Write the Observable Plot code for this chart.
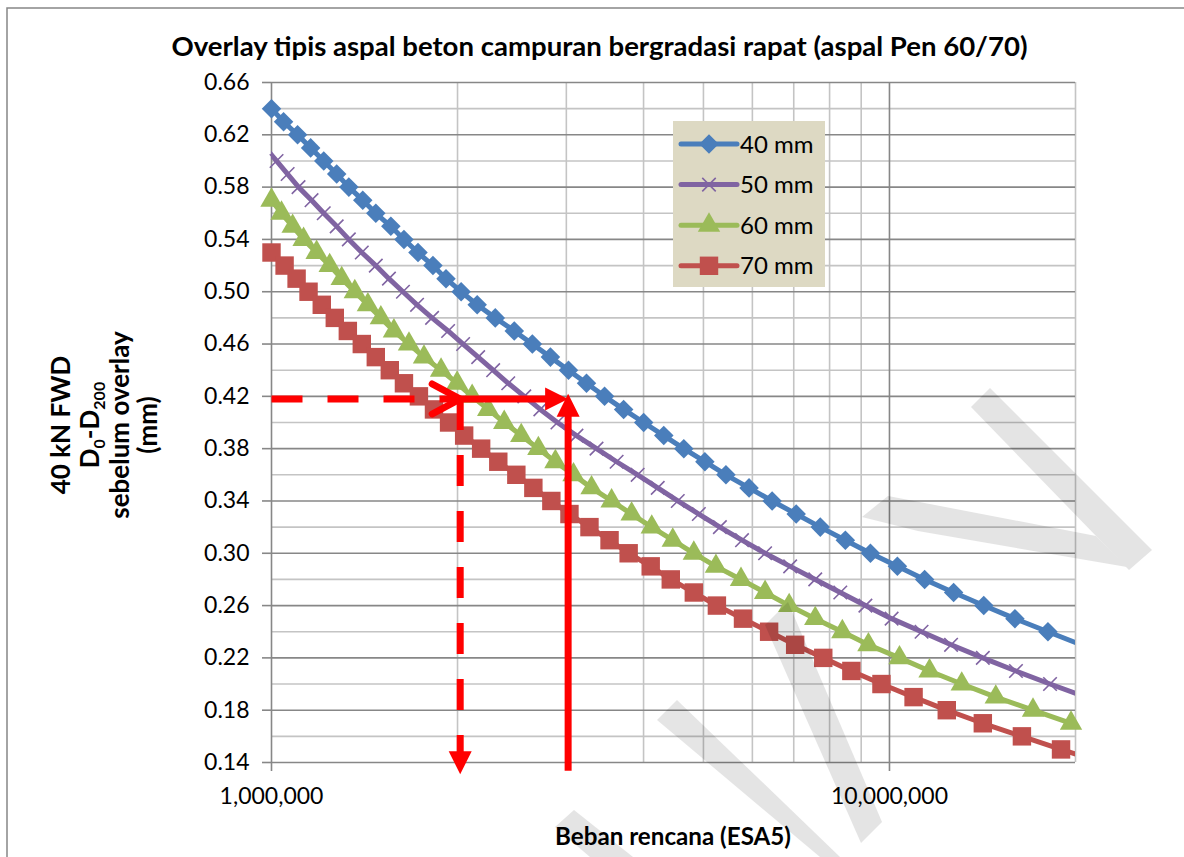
<!DOCTYPE html>
<html><head><meta charset="utf-8">
<script src="https://cdn.jsdelivr.net/npm/d3@7"></script>
<script src="https://cdn.jsdelivr.net/npm/@observablehq/plot@0.6"></script>
<style>
body{margin:0;background:#fff;}
#wrap{position:relative;width:1184px;height:857px;overflow:hidden;font-family:Lato,sans-serif;background:#fff;}
#wrap svg{position:absolute;left:0;top:0;}
</style></head><body><div id="wrap"></div>
<script>
// ---- data (ESA in millions, deflection in mm) ----
const esa40 = [1.000,1.046,1.102,1.157,1.215,1.275,1.334,1.405,1.475,1.560,1.638,1.726,1.825,1.916,2.027,2.152,2.302,2.471,2.643,2.827,3.024,3.234,3.459,3.714,4.002,4.313,4.647,5.027,5.437,5.926,6.458,7.064,7.727,8.484,9.315,10.30,11.40,12.70,14.21,15.96,18.05,20.42];
const d40 = [0.64,0.63,0.62,0.61,0.60,0.59,0.58,0.57,0.56,0.55,0.54,0.53,0.52,0.51,0.50,0.49,0.48,0.47,0.46,0.45,0.44,0.43,0.42,0.41,0.40,0.39,0.38,0.37,0.36,0.35,0.34,0.33,0.32,0.31,0.30,0.29,0.28,0.27,0.26,0.25,0.24,0.23];
const esa50 = [0.978,1.019,1.062,1.106,1.161,1.215,1.275,1.334,1.400,1.475,1.549,1.632,1.720,1.819,1.931,2.042,2.160,2.284,2.416,2.565,2.723,2.902,3.115,3.357,3.618,3.913,4.217,4.544,4.915,5.316,5.773,6.291,6.907,7.584,8.326,9.142,10.08,11.27,12.58,14.16,16.02,18.19,20.81];
const d50 = [0.61,0.60,0.59,0.58,0.57,0.56,0.55,0.54,0.53,0.52,0.51,0.50,0.49,0.48,0.47,0.46,0.45,0.44,0.43,0.42,0.41,0.40,0.39,0.38,0.37,0.36,0.35,0.34,0.33,0.32,0.31,0.30,0.29,0.28,0.27,0.26,0.25,0.24,0.23,0.22,0.21,0.20,0.19];
const esa60 = [1.000,1.038,1.082,1.127,1.183,1.242,1.299,1.364,1.432,1.503,1.578,1.669,1.765,1.881,1.997,2.112,2.242,2.380,2.536,2.703,2.880,3.081,3.295,3.551,3.826,4.124,4.460,4.824,5.238,5.751,6.291,6.881,7.584,8.389,9.245,10.38,11.61,13.09,14.86,17.07,19.67,22.85];
const d60 = [0.57,0.56,0.55,0.54,0.53,0.52,0.51,0.50,0.49,0.48,0.47,0.46,0.45,0.44,0.43,0.42,0.41,0.40,0.39,0.38,0.37,0.36,0.35,0.34,0.33,0.32,0.31,0.30,0.29,0.28,0.27,0.26,0.25,0.24,0.23,0.22,0.21,0.20,0.19,0.18,0.17,0.16];
const esa70 = [1.000,1.050,1.098,1.148,1.206,1.266,1.329,1.400,1.475,1.554,1.638,1.732,1.832,1.938,2.050,2.184,2.328,2.490,2.653,2.837,3.035,3.270,3.524,3.784,4.108,4.427,4.824,5.257,5.794,6.386,7.037,7.814,8.676,9.706,10.94,12.38,14.16,16.38,18.95,22.17];
const d70 = [0.53,0.52,0.51,0.50,0.49,0.48,0.47,0.46,0.45,0.44,0.43,0.42,0.41,0.40,0.39,0.38,0.37,0.36,0.35,0.34,0.33,0.32,0.31,0.30,0.29,0.28,0.27,0.26,0.25,0.24,0.23,0.22,0.21,0.20,0.19,0.18,0.17,0.16,0.15,0.14];

const seriesNames = ["40 mm","50 mm","60 mm","70 mm"];
const seriesColors = ["#4A7EBB","#8064A2","#9BBB59","#C0504D"];

// axis ticks / grid values
const yTicks = [0.14,0.18,0.22,0.26,0.30,0.34,0.38,0.42,0.46,0.50,0.54,0.58,0.62,0.66];
const yMinor = [0.16,0.20,0.24,0.28,0.32,0.36,0.40,0.44,0.48,0.52,0.56,0.60,0.64];
const xMajor = [1e6,1e7];
const xMinor = [2e6,3e6,4e6,5e6,6e6,7e6,8e6,9e6,2e7];

// reading guide (annotation) values
const guideD = 0.418, guideTipD = 0.422, guideLowD = 0.131, guideLowSolidD = 0.1336;
const guideStartESA = 1e6, readESA1 = 2.02e6, readESA2 = 3.02e6;

const toPts = (esa, d) => esa.map((e,i)=>({x:e*1e6, y:d[i]}));
const all = [toPts(esa40,d40), toPts(esa50,d50), toPts(esa60,d60), toPts(esa70,d70)];
const inDom = p => p.x >= 0.999e6 && p.x <= 2e7;

const symSpec = [
  {symbol:"diamond2", r:8.8, fill:seriesColors[0], stroke:"none"},
  {symbol:"times", r:6.2, fill:"none", stroke:seriesColors[1], strokeWidth:1.6},
  {symbol:"triangle", r:8.3, fill:seriesColors[2], stroke:"none"},
  {symbol:"square", r:10.4, fill:seriesColors[3], stroke:"none"}
];

const tipTri = {draw(ctx){ ctx.moveTo(0,0); ctx.lineTo(-23,-11.5); ctx.lineTo(-23,11.5); ctx.closePath(); }};
const chevron = {draw(ctx){ ctx.moveTo(-28,-15); ctx.lineTo(0,0); ctx.lineTo(-28,15); }};

const seriesMarks = [];
all.forEach((pts,i)=>{
  seriesMarks.push(Plot.line(pts,{x:"x",y:"y",stroke:seriesColors[i],strokeWidth:5,clip:true}));
  seriesMarks.push(Plot.dot(pts.filter(inDom),{x:"x",y:"y",...symSpec[i]}));
});

const RED = "#FF0000";
const annot = [
  Plot.line([{x:guideStartESA,y:guideD},{x:readESA1,y:guideD}],{x:"x",y:"y",stroke:RED,strokeWidth:7,strokeDasharray:"31,25",strokeLinecap:"butt"}),
  Plot.arrow([{x1:readESA1,y1:guideD,x2:readESA1,y2:guideLowD}],{x1:"x1",y1:"y1",x2:"x2",y2:"y2",stroke:RED,strokeWidth:7,strokeDasharray:"31,25",strokeLinecap:"butt",headLength:0,insetEnd:20}),
  Plot.dot([{x:readESA1,y:guideLowD}],{x:"x",y:"y",symbol:tipTri,fill:RED,stroke:"none",rotate:90}),
  Plot.arrow([{x1:readESA1,y1:guideD,x2:readESA2,y2:guideD}],{x1:"x1",y1:"y1",x2:"x2",y2:"y2",stroke:RED,strokeWidth:7,strokeLinecap:"butt",headLength:0,insetEnd:18}),
  Plot.dot([{x:readESA2,y:guideD}],{x:"x",y:"y",symbol:tipTri,fill:RED,stroke:"none",rotate:0}),
  Plot.arrow([{x1:readESA2,y1:guideLowSolidD,x2:readESA2,y2:guideTipD}],{x1:"x1",y1:"y1",x2:"x2",y2:"y2",stroke:RED,strokeWidth:7,strokeLinecap:"butt",headLength:0,insetEnd:18}),
  Plot.dot([{x:readESA2,y:guideTipD}],{x:"x",y:"y",symbol:tipTri,fill:RED,stroke:"none",rotate:-90}),
  Plot.dot([{x:readESA1,y:guideD}],{x:"x",y:"y",symbol:chevron,fill:"none",stroke:RED,strokeWidth:7,strokeLinecap:"round",strokeLinejoin:"round"})
];

const plot = Plot.plot({
  width:1184, height:857,
  marginLeft:271, marginRight:109, marginTop:82, marginBottom:95,
  style:{fontFamily:"Lato, sans-serif", fontSize:"23px", color:"#000", background:"transparent"},
  x:{type:"log", domain:[1e6,2e7]},
  y:{domain:[0.14,0.66]},
  marks:[
    Plot.ruleY(yMinor,{stroke:"#C4C4C4",strokeWidth:1.6}),
    Plot.ruleX(xMinor,{stroke:"#C4C4C4",strokeWidth:1.6}),
    Plot.ruleY(yTicks,{stroke:"#878787",strokeWidth:1.6}),
    Plot.ruleX(xMajor,{stroke:"#878787",strokeWidth:1.6}),
    ...seriesMarks,
    ...annot,
    Plot.axisY(yTicks,{tickFormat:d3.format(".2f"),tickSize:9,tickPadding:13,stroke:"#878787",strokeWidth:1.6,fontSize:23,label:null}),
    Plot.axisX(xMajor,{tickFormat:d3.format(","),tickSize:9,tickPadding:16,stroke:"#878787",strokeWidth:1.6,fontSize:23,label:null})
  ]
});
const wrap = document.getElementById("wrap");
wrap.appendChild(plot);

// ---- overlay: frame border, title, axis titles, legend, watermark ----
const ov = d3.select(wrap).append("svg").attr("width",1184).attr("height",857)
  .style("font-family","Lato, sans-serif");

ov.append("path").attr("d","M7,857V8H1184").attr("fill","none").attr("stroke","#878787").attr("stroke-width",1.5);

ov.append("text").attr("x",599.5).attr("y",56).attr("text-anchor","middle")
  .attr("font-weight",700).attr("font-size",26).attr("textLength",856).attr("lengthAdjust","spacingAndGlyphs")
  .text("Overlay tipis aspal beton campuran bergradasi rapat (aspal Pen 60/70)");

ov.append("text").attr("x",673).attr("y",845).attr("text-anchor","middle")
  .attr("font-weight",700).attr("font-size",25).attr("textLength",236).attr("lengthAdjust","spacingAndGlyphs")
  .text("Beban rencana (ESA5)");

// y axis title (rotated, 4 lines)
const yl = [{bx:70,t:"40 kN FWD"},{bx:99,t:null},{bx:129,t:"sebelum overlay"},{bx:157,t:"(mm)"}];
yl.forEach(l=>{
  const t = ov.append("text").attr("transform",`translate(${l.bx},425) rotate(-90)`)
    .attr("text-anchor","middle").attr("font-weight",700).attr("font-size",26);
  if(l.t) t.text(l.t);
  else {
    t.append("tspan").text("D");
    t.append("tspan").attr("font-size",16).attr("dy",6).text("0");
    t.append("tspan").attr("dy",-6).text("-D");
    t.append("tspan").attr("font-size",16).attr("dy",6).text("200");
  }
});

// legend
const lg = ov.append("g");
lg.append("rect").attr("x",673).attr("y",121).attr("width",152).attr("height",166).attr("fill","#DDD9C3");
const d3sym = {diamond2:d3.symbolDiamond2, times:d3.symbolTimes, triangle:d3.symbolTriangle, square:d3.symbolSquare};
seriesNames.forEach((name,i)=>{
  const cy = 144 + 40.6*i;
  lg.append("line").attr("x1",681).attr("x2",737).attr("y1",cy).attr("y2",cy)
    .attr("stroke",seriesColors[i]).attr("stroke-width",5).attr("stroke-linecap","round");
  const s = symSpec[i];
  lg.append("path").attr("transform",`translate(709,${cy})`)
    .attr("d",d3.symbol(d3sym[s.symbol], Math.PI*s.r*s.r)())
    .attr("fill",s.fill).attr("stroke",s.stroke==="none"?null:s.stroke).attr("stroke-width",s.strokeWidth||0);
  lg.append("text").attr("x",740).attr("y",cy+8.5).attr("font-size",24).attr("fill","#000").text(name);
});

// faint diagonal watermark strokes
const wm = ov.append("g").attr("opacity",0.1);
const polys = [
  [[971,407],[990,388],[1152,550],[1129,570]],
  [[862,517],[888,496],[1096,536],[1127,567],[918,531]],
  [[765,625],[788,602],[882,822],[861,843]],
  [[657,720],[677,700],[840,857],[820,857]],
  [[555,827],[574,810],[633,857],[590,857]]
];
polys.forEach(p=>wm.append("path").attr("d","M"+p.map(q=>q.join(",")).join("L")+"Z").attr("fill","#000"));
</script>
</body></html>
